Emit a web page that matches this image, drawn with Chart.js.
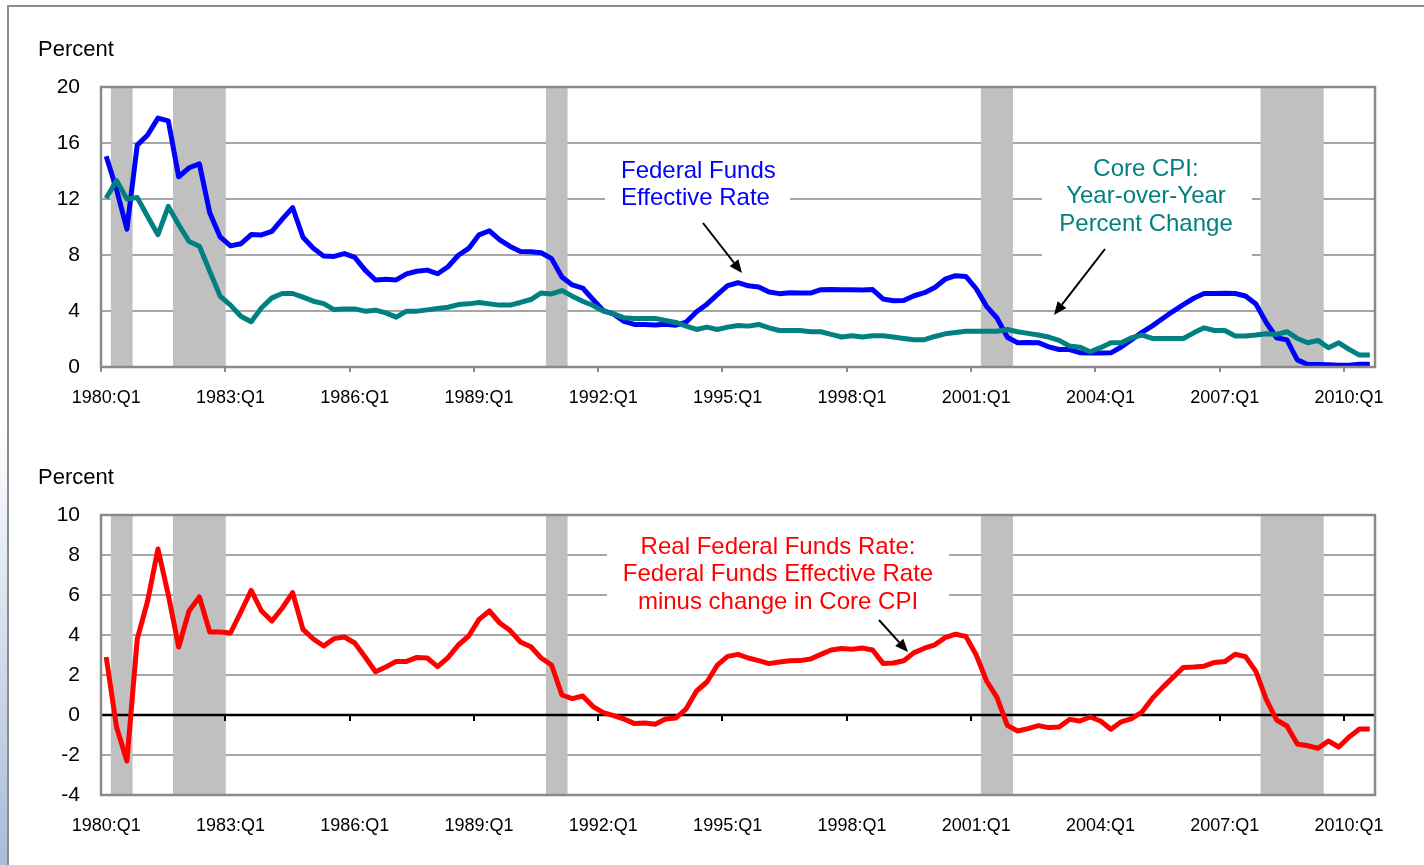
<!DOCTYPE html>
<html>
<head>
<meta charset="utf-8">
<script src="https://cdn.jsdelivr.net/npm/chart.js@4.4.1/dist/chart.umd.min.js"></script>
<style>
    body { margin: 0; background: #fff; width: 1424px; height: 865px; overflow: hidden; position: relative; }
    #marco { position: absolute; left: 7px; top: 5px; width: 1440px; height: 880px; border-top: 2px solid #8c8c8c; border-left: 2px solid #8c8c8c; }
    #franja { position: absolute; left: 0; top: 420px; width: 7px; height: 445px; background: linear-gradient(#ffffff, #a9bbd9); }
    canvas { position: absolute; left: 0; }
</style>
</head>
<body>
<div id="franja"></div>
<div id="marco"></div>
<canvas id="grafica-tasas" width="1424" height="420" style="top:0px"></canvas>
<canvas id="grafica-real" width="1424" height="420" style="top:428px"></canvas>
<script>
// #region Datos
var trimestres = [];
for (var anio = 1980; anio <= 2010; anio++) {
    for (var q = 1; q <= 4; q++) {
        if (trimestres.length < 123) trimestres.push(anio + ":Q" + q);
    }
}

// Federal Funds Effective Rate (azul)
var fedFunds = [
    15.05, 12.69, 9.84, 15.85, 16.57, 17.78, 17.58, 13.59,
    14.23, 14.51, 11.01, 9.29, 8.65, 8.80, 9.46, 9.43,
    9.69, 10.56, 11.39, 9.27, 8.48, 7.92, 7.90, 8.10,
    7.83, 6.92, 6.21, 6.27, 6.22, 6.65, 6.84, 6.92,
    6.66, 7.16, 7.98, 8.47, 9.44, 9.73, 9.08, 8.61,
    8.25, 8.24, 8.16, 7.74, 6.43, 5.86, 5.64, 4.82,
    4.02, 3.77, 3.26, 3.04, 3.04, 3.00, 3.06, 2.99,
    3.21, 3.94, 4.49, 5.17, 5.81, 6.02, 5.80, 5.72,
    5.36, 5.24, 5.31, 5.28, 5.28, 5.52, 5.53, 5.51,
    5.52, 5.50, 5.53, 4.86, 4.73, 4.75, 5.09, 5.31,
    5.68, 6.27, 6.52, 6.47, 5.59, 4.33, 3.50, 2.13,
    1.73, 1.75, 1.74, 1.44, 1.25, 1.25, 1.02, 1.00,
    1.00, 1.01, 1.43, 1.95, 2.47, 2.94, 3.46, 3.98,
    4.46, 4.91, 5.25, 5.25, 5.26, 5.25, 5.07, 4.50,
    3.18, 2.09, 1.94, 0.51, 0.18, 0.18, 0.16, 0.12,
    0.13, 0.19, 0.19
];

// Core CPI, variación interanual (verde azulado)
var coreCPI = [
    12.06, 13.32, 12.0, 12.1, 10.75, 9.45, 11.47, 10.16,
    8.97, 8.62, 6.84, 5.06, 4.42, 3.63, 3.23, 4.23,
    4.94, 5.25, 5.25, 4.99, 4.7, 4.53, 4.1, 4.15,
    4.15, 3.99, 4.06, 3.87, 3.56, 3.99, 3.99, 4.08,
    4.18, 4.27, 4.46, 4.51, 4.61, 4.51, 4.42, 4.42,
    4.61, 4.82, 5.29, 5.22, 5.46, 5.06, 4.7, 4.39,
    3.99, 3.8, 3.51, 3.47, 3.47, 3.47, 3.32, 3.18,
    2.92, 2.68, 2.85, 2.68, 2.85, 2.97, 2.92, 3.04,
    2.8, 2.61, 2.61, 2.61, 2.52, 2.52, 2.33, 2.14,
    2.23, 2.14, 2.23, 2.23, 2.14, 2.04, 1.95, 1.95,
    2.18, 2.37, 2.47, 2.56, 2.56, 2.56, 2.56, 2.68,
    2.52, 2.4, 2.28, 2.14, 1.9, 1.5, 1.42, 1.09,
    1.38, 1.73, 1.73, 2.09, 2.28, 2.04, 2.04, 2.04,
    2.04, 2.44, 2.8, 2.61, 2.61, 2.21, 2.21, 2.28,
    2.37, 2.33, 2.52, 2.04, 1.73, 1.9, 1.38, 1.73,
    1.26, 0.85, 0.85
];

// Real Federal Funds Rate (rojo)
var realRate = [
    2.9, -0.6, -2.3, 3.8, 5.7, 8.3, 6.0, 3.4,
    5.2, 5.9, 4.15, 4.15, 4.1, 5.15, 6.23, 5.2,
    4.7, 5.35, 6.12, 4.28, 3.8, 3.45, 3.82, 3.9,
    3.6, 2.9, 2.16, 2.4, 2.68, 2.68, 2.88, 2.85,
    2.42, 2.87, 3.5, 3.95, 4.78, 5.2, 4.6, 4.22,
    3.65, 3.41, 2.85, 2.5, 1.0, 0.82, 0.95, 0.42,
    0.12, -0.03, -0.2, -0.43, -0.4, -0.46, -0.2, -0.15,
    0.31, 1.2, 1.65, 2.49, 2.93, 3.03, 2.85, 2.72,
    2.57, 2.65, 2.71, 2.72, 2.8, 3.03, 3.25, 3.32,
    3.29, 3.35, 3.25, 2.58, 2.6, 2.71, 3.12, 3.34,
    3.51, 3.87, 4.04, 3.93, 3.0, 1.7, 0.88, -0.52,
    -0.8, -0.68, -0.53, -0.63, -0.6, -0.22, -0.3, -0.1,
    -0.3, -0.71, -0.34, -0.18, 0.15, 0.83, 1.38, 1.88,
    2.38, 2.4, 2.44, 2.63, 2.67, 3.04, 2.92, 2.18,
    0.78, -0.25, -0.55, -1.45, -1.54, -1.66, -1.3, -1.6,
    -1.1, -0.7, -0.7
];

// Recesiones (primer y último trimestre sombreado)
var recesiones = [
    ["1980:Q2", "1980:Q3"],
    ["1981:Q4", "1982:Q4"],
    ["1990:Q4", "1991:Q1"],
    ["2001:Q2", "2001:Q4"],
    ["2008:Q1", "2009:Q2"]
];

var fuente = "'Liberation Sans', Arial, sans-serif";
Chart.defaults.font.family = fuente;
Chart.defaults.color = "#000";

function bandas(min, max) {
    return trimestres.map(function (t, i) {
        var dentro = recesiones.some(function (r) {
            return i >= trimestres.indexOf(r[0]) && i <= trimestres.indexOf(r[1]);
        });
        return dentro ? [min, max] : null;
    });
}

function flecha(ctx, x1, y1, x2, y2) {
    var ang = Math.atan2(y2 - y1, x2 - x1);
    var largo = 13, ancho = 5.5;
    var bx = x2 - largo * Math.cos(ang), by = y2 - largo * Math.sin(ang);
    ctx.strokeStyle = "#000";
    ctx.fillStyle = "#000";
    ctx.lineWidth = 2;
    ctx.beginPath();
    ctx.moveTo(x1, y1);
    ctx.lineTo(bx, by);
    ctx.stroke();
    ctx.beginPath();
    ctx.moveTo(x2, y2);
    ctx.lineTo(bx + ancho * Math.sin(ang), by - ancho * Math.cos(ang));
    ctx.lineTo(bx - ancho * Math.sin(ang), by + ancho * Math.cos(ang));
    ctx.closePath();
    ctx.fill();
}

// #region Plugin de notas, marco y línea del cero
var notas = {
    id: "notas",
    beforeDatasetsDraw: function (chart, args, opts) {
        var ctx = chart.ctx;
        ctx.save();
        ctx.fillStyle = "#fff";
        (opts.cajas || []).forEach(function (c) {
            ctx.fillRect(c[0], c[1], c[2] - c[0], c[3] - c[1]);
        });
        ctx.restore();
    },
    afterDatasetDraw: function (chart, args, opts) {
        if (!opts.cero || args.meta.type !== "bar") return;
        var ctx = chart.ctx, a = chart.chartArea;
        var xs = chart.scales.x, ys = chart.scales.y;
        var y0 = ys.getPixelForValue(0);
        var medio = (xs.getPixelForValue(1) - xs.getPixelForValue(0)) / 2;
        ctx.save();
        ctx.strokeStyle = "#000";
        ctx.lineWidth = 2.5;
        ctx.beginPath();
        ctx.moveTo(a.left, y0);
        ctx.lineTo(a.right, y0);
        ctx.stroke();
        ctx.lineWidth = 2;
        for (var i = 12; i < trimestres.length; i += 12) {
            var x = Math.round(xs.getPixelForValue(i) - medio);
            ctx.beginPath();
            ctx.moveTo(x, y0);
            ctx.lineTo(x, y0 + 6);
            ctx.stroke();
        }
        ctx.restore();
    },
    afterDraw: function (chart, args, opts) {
        var ctx = chart.ctx, a = chart.chartArea;
        ctx.save();
        ctx.strokeStyle = "#8a8a8a";
        ctx.lineWidth = 2.5;
        ctx.strokeRect(a.left, a.top, a.right - a.left, a.bottom - a.top);
        ctx.textBaseline = "middle";
        (opts.textos || []).forEach(function (t) {
            ctx.font = t.size + "px " + fuente;
            ctx.fillStyle = t.color;
            ctx.textAlign = t.align;
            t.lineas.forEach(function (l, k) {
                ctx.fillText(l, t.x, t.y + k * t.salto);
            });
        });
        (opts.flechas || []).forEach(function (f) {
            flecha(ctx, f[0], f[1], f[2], f[3]);
        });
        ctx.restore();
    }
};

function opciones(yMin, yMax, paso, ticksAbajo, extra) {
    return {
        responsive: false,
        animation: false,
        layout: { padding: { left: 0, right: 49, top: 87, bottom: 0 } },
        plugins: {
            legend: { display: false },
            tooltip: { enabled: false },
            notas: extra
        },
        scales: {
            x: {
                type: "category",
                offset: true,
                grid: {
                    offset: true,
                    drawOnChartArea: false,
                    drawTicks: ticksAbajo,
                    tickLength: 5,
                    lineWidth: 2,
                    color: function (c) {
                        return c.index % 12 === 0 ? "#8a8a8a" : "rgba(0,0,0,0)";
                    }
                },
                border: { display: false },
                ticks: {
                    autoSkip: false,
                    maxRotation: 0,
                    minRotation: 0,
                    padding: ticksAbajo ? 15 : 20,
                    color: "#000",
                    font: { size: 18 },
                    callback: function (v, i) {
                        return i % 12 === 0 ? trimestres[i] : "";
                    }
                },
                afterFit: function (s) { s.height = 53; }
            },
            y: {
                min: yMin,
                max: yMax,
                ticks: { stepSize: paso, padding: 21, color: "#000", font: { size: 21 } },
                grid: { color: "#a6a6a6", lineWidth: 2, drawTicks: false },
                border: { display: false },
                afterFit: function (s) { s.width = 101; }
            }
        }
    };
}

function datasetBandas(min, max) {
    return {
        type: "bar",
        label: "Recesión",
        data: bandas(min, max),
        backgroundColor: "#c0c0c0",
        borderWidth: 0,
        barPercentage: 1,
        categoryPercentage: 1,
        inflateAmount: 0.5,
        order: 10
    };
}

// #region Gráfica de tasas
var tasas = document.getElementById("grafica-tasas").getContext("2d");
var graficaTasas = new Chart(tasas, {
    type: "line",
    data: {
        labels: trimestres,
        datasets: [
            datasetBandas(0, 20),
            {
                label: "Federal Funds Effective Rate",
                data: fedFunds,
                borderColor: "#0000ff",
                borderWidth: 5,
                pointRadius: 0,
                borderJoinStyle: "round",
                fill: false,
                order: 2
            },
            {
                label: "Core CPI: Year-over-Year Percent Change",
                data: coreCPI,
                borderColor: "#008080",
                borderWidth: 5,
                pointRadius: 0,
                borderJoinStyle: "round",
                fill: false,
                order: 1
            }
        ]
    },
    options: opciones(0, 20, 4, true, {
        cajas: [[605, 156, 790, 214], [1042, 150, 1252, 284]],
        textos: [
            { lineas: ["Percent"], x: 38, y: 50, align: "left", color: "#000", size: 22, salto: 0 },
            { lineas: ["Federal Funds", "Effective Rate"], x: 621, y: 171, align: "left", color: "#0000ff", size: 24, salto: 27 },
            { lineas: ["Core CPI:", "Year-over-Year", "Percent Change"], x: 1146, y: 169, align: "center", color: "#008080", size: 24, salto: 27.5 }
        ],
        flechas: [[703, 223, 742, 273], [1105, 249, 1054, 315]]
    }),
    plugins: [notas]
});

// #region Gráfica de tasa real
var real = document.getElementById("grafica-real").getContext("2d");
var graficaReal = new Chart(real, {
    type: "line",
    data: {
        labels: trimestres,
        datasets: [
            datasetBandas(-4, 10),
            {
                label: "Real Federal Funds Rate",
                data: realRate,
                borderColor: "#ff0000",
                borderWidth: 5,
                pointRadius: 0,
                borderJoinStyle: "round",
                fill: false,
                order: 1
            }
        ]
    },
    options: opciones(-4, 10, 2, false, {
        cero: true,
        cajas: [[607, 102, 949, 187]],
        textos: [
            { lineas: ["Percent"], x: 38, y: 50, align: "left", color: "#000", size: 22, salto: 0 },
            { lineas: ["Real Federal Funds Rate:", "Federal Funds Effective Rate", "minus change in Core CPI"], x: 778, y: 119, align: "center", color: "#ff0000", size: 24, salto: 27.5 }
        ],
        flechas: [[879, 192, 908, 224]]
    }),
    plugins: [notas]
});
</script>
</body>
</html>
